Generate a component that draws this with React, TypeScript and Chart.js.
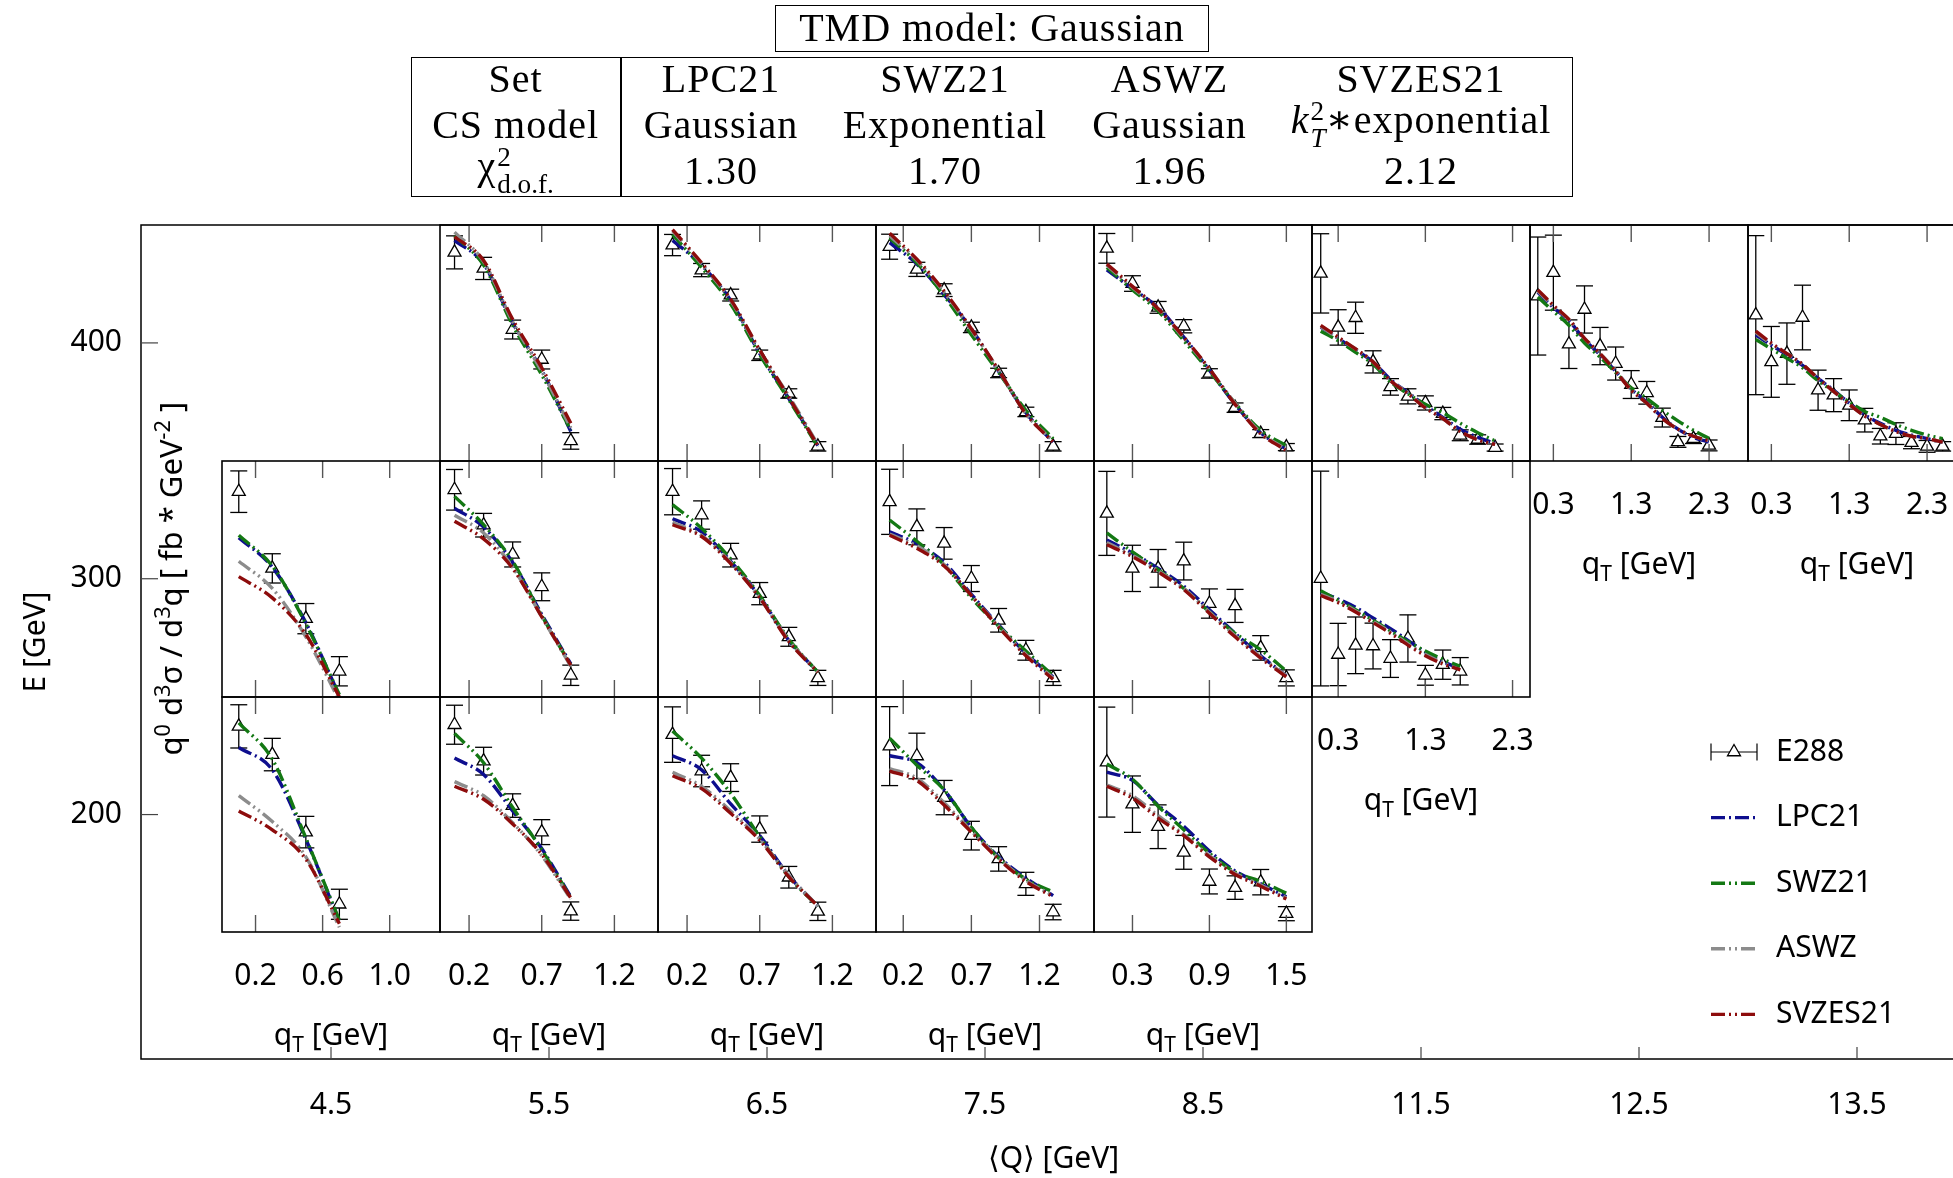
import React, { useEffect, useRef } from 'react';
import { Chart, registerables } from 'chart.js';

Chart.register(...registerables);

const SANS = '"Noto Sans", "Open Sans", "DejaVu Sans", sans-serif';
const SERIF = '"Liberation Serif", "DejaVu Serif", serif';

// ---------- outer grid: <Q> bins (columns) and E bins (rows) ----------
const qBinLabels = ['4.5', '5.5', '6.5', '7.5', '8.5', '11.5', '12.5', '13.5'];
const eBinTicks = [200, 300, 400];
const eBinHalfWidth = 50;
const outerXRange = [-0.8716, 7.5];
const outerYRange = [96.35, 450];

// ---------- qT axis of each <Q> column ----------
const qTMax = [1.3, 1.5, 1.5, 1.6, 1.7, 2.5, 2.8, 2.8];
const qTTicks = [
  [0.2, 0.6, 1.0],
  [0.2, 0.7, 1.2],
  [0.2, 0.7, 1.2],
  [0.2, 0.7, 1.2],
  [0.3, 0.9, 1.5],
  [0.3, 1.3, 2.3],
  [0.3, 1.3, 2.3],
  [0.3, 1.3, 2.3],
];

// ---------- series ----------
const seriesLabels = ['E288', 'LPC21', 'SWZ21', 'ASWZ', 'SVZES21'];
const seriesColors = ['#000000', '#0e0e8e', '#137813', '#8c8c8c', '#8d0c0c'];
const seriesDash = [[], [14, 4, 2, 4], [14, 4, 2, 4, 2, 4], [14, 4, 2, 4, 2, 4], [14, 4, 2, 4, 2, 4]];

// ---------- header table ----------
const setNames = ['LPC21', 'SWZ21', 'ASWZ', 'SVZES21'];
const csModels = ['Gaussian', 'Exponential', 'Gaussian', 'kT2exp'];
const chi2Values = ['1.30', '1.70', '1.96', '2.12'];

// ---------- panel data (relative units inside each panel: 0 = bottom, 100 = top) ----------
// q = index of <Q> bin, e = E bin [GeV]
const P55_400 = {
  q: 1, e: 400,
  qT: [0.1, 0.3, 0.5, 0.7, 0.9],
  e288: [88.4, 81.6, 55.7, 43.0, 8.5],
  err: [7.0, 4.7, 4.0, 4.0, 3.5],
  lpc: [93.5, 83.5, 58.5, 38.5, 12.5],
  swz: [95.5, 83.0, 57.5, 36.5, 13.0],
  aswz: [97.0, 84.5, 59.0, 38.0, 14.0],
  svzes: [95.0, 85.0, 60.0, 39.5, 16.0],
};
const P65_400 = {
  q: 2, e: 400,
  qT: [0.1, 0.3, 0.5, 0.7, 0.9, 1.1],
  e288: [91.5, 80.9, 70.3, 44.8, 28.6, 6.2],
  err: [4.5, 2.8, 2.5, 2.2, 2.0, 2.0],
  lpc: [93.5, 83.0, 68.0, 45.5, 26.5, 6.5],
  swz: [96.0, 82.0, 66.5, 45.0, 26.0, 6.0],
  aswz: [97.5, 83.5, 68.0, 46.5, 27.5, 7.0],
  svzes: [98.0, 84.0, 68.5, 47.0, 27.0, 6.5],
};
const P75_400 = {
  q: 3, e: 400,
  qT: [0.1, 0.3, 0.5, 0.7, 0.9, 1.1, 1.3],
  e288: [90.8, 81.2, 72.4, 56.6, 37.3, 20.8, 6.2],
  err: [5.3, 3.0, 2.7, 2.2, 2.0, 2.0, 2.0],
  lpc: [92.5, 83.5, 70.5, 56.0, 38.0, 20.5, 8.0],
  swz: [94.5, 84.0, 70.0, 53.5, 37.5, 21.5, 9.5],
  aswz: [95.5, 85.0, 71.5, 55.5, 38.5, 20.0, 8.5],
  svzes: [96.5, 85.5, 72.0, 56.0, 38.5, 20.0, 8.0],
};
const P85_400 = {
  q: 4, e: 400,
  qT: [0.1, 0.3, 0.5, 0.7, 0.9, 1.1, 1.3, 1.5],
  e288: [90.1, 75.2, 65.1, 57.1, 37.1, 22.6, 11.6, 5.9],
  err: [6.3, 3.3, 2.5, 2.8, 2.0, 2.0, 1.7, 1.5],
  lpc: [81.0, 73.0, 65.0, 52.5, 38.5, 24.0, 12.0, 5.0],
  swz: [82.0, 72.5, 63.5, 51.0, 38.0, 24.5, 13.0, 6.5],
  aswz: [83.0, 73.5, 64.5, 52.0, 39.0, 24.5, 12.0, 5.0],
  svzes: [83.5, 74.0, 64.5, 52.5, 39.0, 24.0, 11.5, 4.5],
};
const P115_400 = {
  q: 5, e: 400,
  qT: [0.1, 0.3, 0.5, 0.7, 0.9, 1.1, 1.3, 1.5, 1.7, 1.9, 2.1],
  e288: [79.5, 56.6, 60.7, 42.0, 31.4, 27.4, 24.6, 20.1, 10.9, 9.1, 5.7],
  err: [16.8, 7.5, 6.6, 4.7, 3.5, 3.2, 3.0, 2.6, 2.3, 2.0, 1.5],
  lpc: [56.8, 52.0, 47.0, 42.0, 34.5, 29.0, 23.5, 18.5, 13.5, 10.0, 7.5],
  swz: [55.0, 51.0, 46.0, 41.0, 33.5, 28.5, 24.0, 20.5, 16.0, 12.0, 8.5],
  aswz: [57.0, 52.0, 47.5, 42.0, 34.0, 29.0, 22.5, 18.0, 12.5, 9.0, 7.0],
  svzes: [57.5, 52.5, 47.5, 42.0, 34.0, 28.5, 22.5, 18.0, 12.5, 9.0, 7.0],
};
const P125_400 = {
  q: 6, e: 400,
  qT: [0.1, 0.3, 0.5, 0.7, 0.9, 1.1, 1.3, 1.5, 1.7, 1.9, 2.1, 2.3],
  e288: [69.9, 79.8, 49.5, 64.2, 48.7, 41.3, 32.4, 28.9, 18.4, 8.1, 9.5, 6.6],
  err: [25.0, 15.9, 10.3, 10.0, 7.9, 7.0, 5.9, 4.8, 4.0, 2.3, 2.1, 2.3],
  lpc: [71.5, 65.0, 59.5, 51.5, 45.0, 38.0, 30.5, 25.0, 18.5, 13.5, 10.0, 8.0],
  swz: [69.5, 63.5, 57.5, 50.0, 44.0, 37.5, 31.0, 26.5, 21.5, 17.0, 13.0, 9.5],
  aswz: [72.0, 65.5, 60.0, 52.0, 45.5, 38.5, 30.0, 24.5, 18.0, 13.5, 10.5, 8.5],
  svzes: [72.5, 66.0, 60.0, 52.0, 45.5, 38.0, 30.0, 24.5, 18.0, 13.5, 10.5, 8.5],
};
const P135_400 = {
  q: 7, e: 400,
  qT: [0.1, 0.3, 0.5, 0.7, 0.9, 1.1, 1.3, 1.5, 1.7, 1.9, 2.1, 2.3, 2.5],
  e288: [61.8, 42.0, 45.5, 60.8, 30.0, 27.9, 23.6, 17.3, 10.5, 11.6, 7.8, 6.2, 6.2],
  err: [33.7, 15.0, 13.0, 13.7, 8.5, 7.0, 6.5, 5.0, 3.3, 4.6, 2.6, 2.5, 2.0],
  lpc: [53.5, 49.0, 45.0, 40.5, 35.0, 30.0, 24.5, 19.5, 16.0, 13.0, 11.0, 9.5, 8.0],
  swz: [51.5, 47.5, 43.5, 39.5, 34.0, 29.5, 25.0, 21.0, 18.5, 15.5, 13.0, 11.0, 9.5],
  aswz: [54.5, 49.5, 45.5, 41.0, 35.0, 29.5, 24.0, 19.0, 15.5, 12.5, 10.5, 9.5, 8.0],
  svzes: [55.0, 50.0, 45.5, 41.0, 35.0, 29.5, 24.0, 19.0, 15.5, 12.5, 10.5, 9.5, 8.0],
};

const P45_300 = {
  q: 0, e: 300,
  qT: [0.1, 0.3, 0.5, 0.7],
  e288: [87.0, 54.5, 33.2, 10.9],
  err: [8.8, 6.2, 6.4, 6.2],
  lpc: [67.5, 55.0, 31.5, 0.5],
  swz: [68.5, 55.5, 31.0, 1.0],
  aswz: [57.5, 46.0, 25.5, -1.5],
  svzes: [51.0, 42.0, 26.5, 0.0],
};
const P55_300 = {
  q: 1, e: 300,
  qT: [0.1, 0.3, 0.5, 0.7, 0.9],
  e288: [87.8, 72.8, 60.4, 46.7, 9.2],
  err: [8.6, 5.0, 5.3, 5.9, 4.3],
  lpc: [80.0, 72.0, 57.0, 35.0, 14.0],
  swz: [85.0, 73.0, 57.5, 34.5, 13.5],
  aswz: [77.0, 69.5, 55.0, 34.0, 13.0],
  svzes: [74.5, 67.0, 54.5, 34.0, 13.5],
};
const P65_300 = {
  q: 2, e: 300,
  qT: [0.1, 0.3, 0.5, 0.7, 0.9, 1.1],
  e288: [87.0, 77.1, 60.1, 43.8, 25.5, 8.1],
  err: [9.8, 6.0, 5.0, 4.7, 4.0, 3.2],
  lpc: [75.5, 70.0, 57.5, 42.5, 24.0, 10.5],
  swz: [81.5, 71.5, 58.5, 43.0, 24.5, 10.5],
  aswz: [74.0, 68.5, 57.0, 42.0, 24.0, 10.5],
  svzes: [73.0, 68.0, 56.5, 42.0, 23.5, 10.5],
};
const P75_300 = {
  q: 3, e: 300,
  qT: [0.1, 0.3, 0.5, 0.7, 0.9, 1.1, 1.3],
  e288: [82.7, 72.1, 65.1, 50.2, 32.5, 19.8, 8.1],
  err: [13.8, 7.6, 6.7, 5.5, 5.0, 4.2, 3.2],
  lpc: [70.0, 65.0, 57.0, 43.5, 30.5, 18.5, 8.5],
  swz: [75.0, 66.0, 56.0, 42.0, 30.0, 19.5, 9.0],
  aswz: [69.0, 64.0, 56.0, 43.0, 30.0, 18.0, 8.0],
  svzes: [68.5, 63.0, 55.5, 43.0, 29.5, 17.5, 7.5],
};
const P85_300 = {
  q: 4, e: 300,
  qT: [0.1, 0.3, 0.5, 0.7, 0.9, 1.1, 1.3, 1.5],
  e288: [77.8, 54.5, 54.5, 57.6, 39.6, 38.6, 20.8, 8.1],
  err: [17.8, 9.8, 8.0, 8.0, 6.2, 7.0, 5.2, 3.4],
  lpc: [66.5, 61.0, 54.5, 47.0, 37.0, 27.0, 17.5, 9.0],
  swz: [69.5, 61.5, 54.0, 46.0, 36.0, 27.0, 20.0, 11.0],
  aswz: [65.5, 60.0, 53.5, 46.0, 36.0, 26.0, 17.0, 9.0],
  svzes: [64.5, 59.5, 53.0, 45.5, 35.5, 25.5, 16.5, 8.5],
};
const P115_300 = {
  q: 5, e: 300,
  qT: [0.1, 0.3, 0.5, 0.7, 0.9, 1.1, 1.3, 1.5, 1.7],
  e288: [50.2, 18.0, 21.9, 21.6, 16.3, 24.8, 9.2, 13.7, 10.9],
  err: [45.5, 13.2, 12.0, 9.7, 8.0, 10.0, 4.2, 6.2, 5.8],
  lpc: [44.5, 41.5, 38.0, 33.5, 29.0, 24.0, 19.0, 15.0, 12.0],
  swz: [45.0, 41.0, 37.0, 32.5, 28.0, 23.5, 19.5, 16.0, 13.0],
  aswz: [43.5, 40.5, 36.5, 32.0, 27.5, 22.5, 18.0, 14.5, 11.5],
  svzes: [43.0, 40.0, 36.0, 31.5, 27.0, 22.0, 17.5, 14.0, 11.5],
};

const P45_200 = {
  q: 0, e: 200,
  qT: [0.1, 0.3, 0.5, 0.7],
  e288: [87.5, 75.5, 42.5, 11.8],
  err: [9.2, 6.9, 6.7, 6.4],
  lpc: [78.5, 69.0, 39.5, 4.5],
  swz: [89.0, 73.5, 40.0, 5.0],
  aswz: [58.0, 47.0, 32.0, 2.0],
  svzes: [51.5, 43.5, 31.0, 3.5],
};
const P55_200 = {
  q: 1, e: 200,
  qT: [0.1, 0.3, 0.5, 0.7, 0.9],
  e288: [88.2, 72.7, 53.8, 42.5, 8.9],
  err: [8.3, 5.9, 5.0, 5.3, 3.9],
  lpc: [74.0, 67.0, 51.5, 35.5, 15.0],
  swz: [84.5, 72.0, 53.0, 35.0, 14.5],
  aswz: [64.0, 58.0, 46.5, 32.5, 14.0],
  svzes: [62.0, 56.5, 46.0, 33.0, 14.5],
};
const P65_200 = {
  q: 2, e: 200,
  qT: [0.1, 0.3, 0.5, 0.7, 0.9, 1.1],
  e288: [84.0, 68.5, 65.7, 43.8, 23.3, 8.8],
  err: [11.8, 6.7, 5.9, 5.6, 4.6, 3.9],
  lpc: [75.0, 69.0, 54.5, 41.0, 24.0, 11.0],
  swz: [85.5, 74.0, 59.0, 40.5, 23.5, 11.0],
  aswz: [68.0, 62.0, 51.5, 39.5, 24.0, 11.0],
  svzes: [66.5, 61.0, 50.5, 39.0, 23.5, 11.0],
};
const P75_200 = {
  q: 3, e: 200,
  qT: [0.1, 0.3, 0.5, 0.7, 0.9, 1.1, 1.3],
  e288: [79.1, 74.9, 57.2, 41.0, 31.1, 20.5, 8.5],
  err: [16.8, 9.7, 7.3, 6.1, 5.2, 4.9, 3.3],
  lpc: [75.0, 72.0, 60.5, 44.5, 32.0, 23.0, 15.5],
  swz: [82.5, 71.0, 60.5, 44.5, 31.5, 22.5, 17.0],
  aswz: [69.5, 65.5, 55.0, 43.0, 31.5, 22.0, 15.5],
  svzes: [68.5, 64.5, 54.0, 42.5, 31.0, 21.5, 15.0],
};
const P85_200 = {
  q: 4, e: 200,
  qT: [0.1, 0.3, 0.5, 0.7, 0.9, 1.1, 1.3, 1.5],
  e288: [72.3, 54.4, 44.8, 33.9, 21.5, 18.9, 21.2, 7.8],
  err: [23.4, 12.0, 9.3, 7.2, 5.3, 5.0, 5.4, 3.0],
  lpc: [68.0, 64.5, 54.0, 45.0, 34.5, 26.0, 20.5, 15.0],
  swz: [71.5, 65.0, 53.5, 43.5, 33.5, 25.5, 21.5, 16.5],
  aswz: [62.5, 58.0, 49.5, 41.5, 32.5, 25.0, 20.0, 14.5],
  svzes: [62.0, 57.0, 48.5, 41.0, 32.0, 24.5, 19.5, 14.0],
};

const panels = [
  P55_400, P65_400, P75_400, P85_400, P115_400, P125_400, P135_400,
  P45_300, P55_300, P65_300, P75_300, P85_300, P115_300,
  P45_200, P55_200, P65_200, P75_200, P85_200,
];
const theoryKeys = ['lpc', 'swz', 'aswz', 'svzes'];

// ---------- layout constants ----------
const FONT_SIZE = 30;
const PANEL_PAD = 2;
const LABEL_AREA = 122;
const CANVAS_W = 1968;
const CANVAS_H = 1178;

type Seg = { t: string; s?: 'sup' | 'sub' };

function drawRich(ctx: CanvasRenderingContext2D, segs: Seg[], x: number, y: number, size: number, align: 'left' | 'center') {
  const small = size * 0.7;
  const fontFor = (sg: Seg) => `${sg.s ? small : size}px ${SANS}`;
  const widths = segs.map((sg) => {
    ctx.font = fontFor(sg);
    return ctx.measureText(sg.t).width;
  });
  const total = widths.reduce((a, b) => a + b, 0);
  let cx = align === 'center' ? x - total / 2 : x;
  ctx.textAlign = 'left';
  ctx.textBaseline = 'alphabetic';
  segs.forEach((sg, i) => {
    ctx.font = fontFor(sg);
    const dy = sg.s === 'sup' ? -size * 0.4 : sg.s === 'sub' ? size * 0.22 : 0;
    ctx.fillText(sg.t, cx, y + dy);
    cx += widths[i];
  });
}

function seg(ctx: CanvasRenderingContext2D, x1: number, y1: number, x2: number, y2: number) {
  ctx.beginPath();
  ctx.moveTo(x1, y1);
  ctx.lineTo(x2, y2);
  ctx.stroke();
}

function triangle(ctx: CanvasRenderingContext2D, x: number, y: number, r: number) {
  ctx.beginPath();
  ctx.moveTo(x, y - r);
  ctx.lineTo(x + 0.866 * r, y + 0.5 * r);
  ctx.lineTo(x - 0.866 * r, y + 0.5 * r);
  ctx.closePath();
  ctx.fillStyle = '#fff';
  ctx.fill();
  ctx.stroke();
}

const qTTitle: Seg[] = [{ t: 'q' }, { t: 'T', s: 'sub' }, { t: ' [GeV]' }];
const yTitle2: Seg[] = [
  { t: 'q' }, { t: '0', s: 'sup' }, { t: ' d' }, { t: '3', s: 'sup' }, { t: 'σ / d' }, { t: '3', s: 'sup' },
  { t: 'q [ fb * GeV' }, { t: '-2', s: 'sup' }, { t: ' ]' },
];

const outerDecor = {
  id: 'outerDecor',
  afterDraw(chart: any) {
    const { ctx, chartArea: a, scales } = chart;
    const xs = scales.x;
    const ys = scales.y;
    ctx.save();
    ctx.setLineDash([]);
    ctx.strokeStyle = '#000';
    ctx.lineWidth = 1.5;
    ctx.strokeRect(a.left, a.top, a.right - a.left, a.bottom - a.top);
    ctx.lineWidth = 1.2;
    ctx.strokeStyle = '#444';
    qBinLabels.forEach((_, i) => {
      const px = xs.getPixelForValue(i);
      seg(ctx, px, a.bottom, px, a.bottom - 12);
    });
    eBinTicks.forEach((E) => {
      const py = ys.getPixelForValue(E);
      seg(ctx, a.left, py, a.left + 17, py);
    });
    // cross-section title (rotated)
    ctx.save();
    ctx.translate(a.left + 31, ys.getPixelForValue(300));
    ctx.rotate(-Math.PI / 2);
    ctx.fillStyle = '#000';
    drawRich(ctx, yTitle2, 0, 10, 31, 'center');
    ctx.restore();
    // legend
    const lx0 = 1711;
    const lx1 = 1757;
    const ltx = 1776;
    const ly0 = 752;
    const ldy = 65.6;
    seriesLabels.forEach((lab, i) => {
      const ly = ly0 + i * ldy;
      if (i === 0) {
        ctx.strokeStyle = '#000';
        ctx.lineWidth = 1.2;
        ctx.setLineDash([]);
        seg(ctx, lx0, ly, lx1, ly);
        seg(ctx, lx0, ly - 8.5, lx0, ly + 8.5);
        seg(ctx, lx1, ly - 8.5, lx1, ly + 8.5);
        ctx.lineWidth = 1.3;
        triangle(ctx, (lx0 + lx1) / 2, ly, 7.5);
      } else {
        ctx.strokeStyle = seriesColors[i];
        ctx.lineWidth = 3.4;
        ctx.setLineDash(seriesDash[i]);
        seg(ctx, lx0, ly, lx1, ly);
        ctx.setLineDash([]);
      }
      ctx.fillStyle = '#000';
      ctx.font = `${FONT_SIZE}px ${SANS}`;
      ctx.textAlign = 'left';
      ctx.textBaseline = 'middle';
      ctx.fillText(lab, ltx, ly);
    });
    ctx.restore();
  },
};

function makePanelPlugin(p: any, labeled: boolean) {
  return {
    id: 'panelDecor',
    beforeDatasetsDraw(chart: any) {
      const { ctx, chartArea: a, scales } = chart;
      const xs = scales.x;
      const ys = scales.y;
      ctx.save();
      ctx.beginPath();
      ctx.rect(a.left, a.top, a.right - a.left, a.bottom - a.top);
      ctx.clip();
      ctx.strokeStyle = '#000';
      ctx.lineWidth = 1.3;
      ctx.setLineDash([]);
      p.qT.forEach((q: number, j: number) => {
        const px = xs.getPixelForValue(q);
        const pt = ys.getPixelForValue(p.e288[j] + p.err[j]);
        const pb = ys.getPixelForValue(p.e288[j] - p.err[j]);
        seg(ctx, px, pt, px, pb);
        seg(ctx, px - 8.5, pt, px + 8.5, pt);
        seg(ctx, px - 8.5, pb, px + 8.5, pb);
      });
      ctx.restore();
    },
    afterDraw(chart: any) {
      const { ctx, chartArea: a, scales } = chart;
      const xs = scales.x;
      ctx.save();
      ctx.setLineDash([]);
      ctx.strokeStyle = '#555';
      ctx.lineWidth = 1.4;
      qTTicks[p.q].forEach((v) => {
        const px = xs.getPixelForValue(v);
        seg(ctx, px, a.top, px, a.top + 17);
        seg(ctx, px, a.bottom, px, a.bottom - 17);
      });
      ctx.strokeStyle = '#000';
      ctx.lineWidth = 1.6;
      ctx.strokeRect(a.left, a.top, a.right - a.left, a.bottom - a.top);
      if (labeled) {
        ctx.fillStyle = '#000';
        drawRich(ctx, qTTitle, (a.left + a.right) / 2, a.bottom + 113, FONT_SIZE, 'center');
      }
      ctx.restore();
    },
  };
}

function Scripts({ sup, sub, italicSub }: { sup: string; sub: string; italicSub?: boolean }) {
  return (
    <span
      style={{
        display: 'inline-flex',
        flexDirection: 'column',
        fontSize: '0.68em',
        lineHeight: 1,
        verticalAlign: '0.5em',
        letterSpacing: 0,
        marginLeft: 1,
      }}
    >
      <span>{sup}</span>
      <span style={{ fontStyle: italicSub ? 'italic' : 'normal' }}>{sub}</span>
    </span>
  );
}

const hdrBase: React.CSSProperties = {
  position: 'absolute',
  transform: 'translate(-50%, -50%)',
  whiteSpace: 'nowrap',
  fontFamily: SERIF,
  fontSize: 40,
  letterSpacing: '1px',
  lineHeight: 1,
  color: '#000',
};

function Cell({ x, y, children }: { x: number; y: number; children: React.ReactNode }) {
  return <div style={{ ...hdrBase, left: x, top: y }}>{children}</div>;
}

function csModelText(m: string) {
  if (m === 'kT2exp') {
    return (
      <span>
        <i>k</i>
        <Scripts sup="2" sub="T" italicSub />
        ∗exponential
      </span>
    );
  }
  return m;
}

export default function App() {
  const outerRef = useRef<HTMLCanvasElement | null>(null);
  const hostRef = useRef<HTMLDivElement | null>(null);

  useEffect(() => {
    const outerCanvas = outerRef.current!;
    const host = hostRef.current!;
    outerCanvas.width = CANVAS_W;
    outerCanvas.height = CANVAS_H;
    const charts: Chart[] = [];
    const created: HTMLCanvasElement[] = [];

    const outer = new Chart(outerCanvas, {
      type: 'scatter',
      data: { datasets: [] },
      options: {
        animation: false,
        responsive: false,
        maintainAspectRatio: false,
        layout: { autoPadding: false, padding: { top: 225, right: 2, left: 0, bottom: 0 } },
        plugins: { legend: { display: false }, tooltip: { enabled: false } },
        scales: {
          x: {
            type: 'linear',
            min: outerXRange[0],
            max: outerXRange[1],
            bounds: 'data',
            grid: { display: false, drawTicks: false },
            border: { display: false },
            ticks: {
              autoSkip: false,
              maxRotation: 0,
              padding: 28,
              color: '#000',
              font: { family: SANS, size: FONT_SIZE },
              callback: (v: any) => qBinLabels[Math.round(Number(v))] ?? '',
            },
            afterBuildTicks: (s: any) => {
              s.ticks = qBinLabels.map((_, i) => ({ value: i }));
            },
            afterFit: (s: any) => {
              s.height = 119;
              s.paddingLeft = 0;
              s.paddingRight = 0;
            },
            title: {
              display: true,
              text: '⟨Q⟩ [GeV]',
              color: '#000',
              font: { family: SANS, size: FONT_SIZE },
              padding: { top: 0, bottom: 1 },
            },
          },
          y: {
            type: 'linear',
            min: outerYRange[0],
            max: outerYRange[1],
            bounds: 'data',
            grid: { display: false, drawTicks: false },
            border: { display: false },
            ticks: {
              autoSkip: false,
              padding: 19,
              color: '#000',
              font: { family: SANS, size: FONT_SIZE },
            },
            afterBuildTicks: (s: any) => {
              s.ticks = eBinTicks.map((v) => ({ value: v }));
            },
            afterFit: (s: any) => {
              s.width = 141;
              s.paddingTop = 0;
              s.paddingBottom = 0;
            },
            title: {
              display: true,
              text: 'E [GeV]',
              color: '#000',
              font: { family: SANS, size: FONT_SIZE },
              padding: { top: 18, bottom: 0 },
            },
          },
        },
      } as any,
      plugins: [outerDecor],
    });
    charts.push(outer);

    const ox = outer.scales.x;
    const oy = outer.scales.y;

    panels.forEach((p: any) => {
      const labeled = !panels.some((o) => o.q === p.q && o.e === p.e - 100);
      const left = Math.round(ox.getPixelForValue(p.q - 0.5));
      const right = Math.round(ox.getPixelForValue(p.q + 0.5));
      const top = Math.round(oy.getPixelForValue(p.e + eBinHalfWidth));
      const bottom = Math.round(oy.getPixelForValue(p.e - eBinHalfWidth));
      const W = right - left + 2 * PANEL_PAD;
      const H = bottom - top + PANEL_PAD + (labeled ? LABEL_AREA : PANEL_PAD);
      const cv = document.createElement('canvas');
      cv.width = W;
      cv.height = H;
      cv.style.position = 'absolute';
      cv.style.left = `${left - PANEL_PAD}px`;
      cv.style.top = `${top - PANEL_PAD}px`;
      cv.style.width = `${W}px`;
      cv.style.height = `${H}px`;
      host.appendChild(cv);
      created.push(cv);

      const datasets: any[] = theoryKeys.map((k, i) => ({
        label: seriesLabels[i + 1],
        data: p.qT.map((q: number, j: number) => ({ x: q, y: p[k][j] })),
        borderColor: seriesColors[i + 1],
        backgroundColor: seriesColors[i + 1],
        borderWidth: 3.4,
        borderDash: seriesDash[i + 1],
        pointRadius: 0,
        fill: false,
        showLine: true,
        cubicInterpolationMode: 'monotone',
        order: 4 - i,
      }));
      datasets.push({
        label: seriesLabels[0],
        data: p.qT.map((q: number, j: number) => ({ x: q, y: p.e288[j] })),
        showLine: false,
        pointStyle: 'triangle',
        pointRadius: 7.5,
        pointBorderWidth: 1.3,
        pointBorderColor: '#000',
        pointBackgroundColor: '#fff',
        borderColor: '#000',
        backgroundColor: '#fff',
        order: 10,
      });

      const ch = new Chart(cv, {
        type: 'scatter',
        data: { datasets },
        options: {
          animation: false,
          responsive: false,
          maintainAspectRatio: false,
          layout: {
            autoPadding: false,
            padding: { left: PANEL_PAD, right: PANEL_PAD, top: PANEL_PAD, bottom: labeled ? 0 : PANEL_PAD },
          },
          plugins: { legend: { display: false }, tooltip: { enabled: false } },
          scales: {
            x: {
              type: 'linear',
              min: 0,
              max: qTMax[p.q],
              bounds: 'data',
              grid: { display: false, drawTicks: false },
              border: { display: false },
              ticks: {
                display: labeled,
                autoSkip: false,
                maxRotation: 0,
                padding: 26.5,
                color: '#000',
                font: { family: SANS, size: FONT_SIZE },
                callback: (v: any) => Number(v).toFixed(1),
              },
              afterBuildTicks: (s: any) => {
                s.ticks = qTTicks[p.q].map((v) => ({ value: v }));
              },
              afterFit: (s: any) => {
                s.height = labeled ? LABEL_AREA : 0;
                s.paddingLeft = 0;
                s.paddingRight = 0;
              },
            },
            y: { type: 'linear', min: 0, max: 100, display: false },
          },
        } as any,
        plugins: [makePanelPlugin(p, labeled)],
      });
      charts.push(ch);
    });

    return () => {
      charts.forEach((c) => c.destroy());
      created.forEach((c) => c.remove());
    };
  }, []);

  const setColX = 515.6;
  const dataColX = [721, 945, 1169.5, 1421];
  const rowY = [78.5, 124.5, 170.6];

  return (
    <div
      style={{
        position: 'fixed',
        left: 0,
        top: 0,
        width: 1953,
        height: 1178,
        overflow: 'hidden',
        background: '#fff',
      }}
    >
      <canvas ref={outerRef} style={{ position: 'absolute', left: 0, top: 0, width: CANVAS_W, height: CANVAS_H }} />
      <div ref={hostRef} style={{ position: 'absolute', left: 0, top: 0, width: CANVAS_W, height: CANVAS_H }} />

      {/* header: TMD model box */}
      <div
        style={{
          position: 'absolute',
          left: 775,
          top: 5,
          width: 434,
          height: 47,
          border: '1.5px solid #000',
          boxSizing: 'border-box',
        }}
      />
      <Cell x={992} y={28}>TMD model: Gaussian</Cell>

      {/* header: table */}
      <div
        style={{
          position: 'absolute',
          left: 411,
          top: 57,
          width: 1162,
          height: 140,
          border: '1.5px solid #000',
          boxSizing: 'border-box',
        }}
      />
      <div style={{ position: 'absolute', left: 620, top: 57, width: 1.5, height: 140, background: '#000' }} />
      <Cell x={setColX} y={rowY[0]}>Set</Cell>
      <Cell x={setColX} y={rowY[1]}>CS model</Cell>
      <Cell x={setColX} y={rowY[2]}>
        <span>
          χ
          <Scripts sup="2" sub="d.o.f." />
        </span>
      </Cell>
      {setNames.map((n, i) => (
        <Cell key={`s${i}`} x={dataColX[i]} y={rowY[0]}>
          {n}
        </Cell>
      ))}
      {csModels.map((m, i) => (
        <Cell key={`m${i}`} x={dataColX[i]} y={rowY[1]}>
          {csModelText(m)}
        </Cell>
      ))}
      {chi2Values.map((c, i) => (
        <Cell key={`c${i}`} x={dataColX[i]} y={rowY[2]}>
          {c}
        </Cell>
      ))}
    </div>
  );
}
